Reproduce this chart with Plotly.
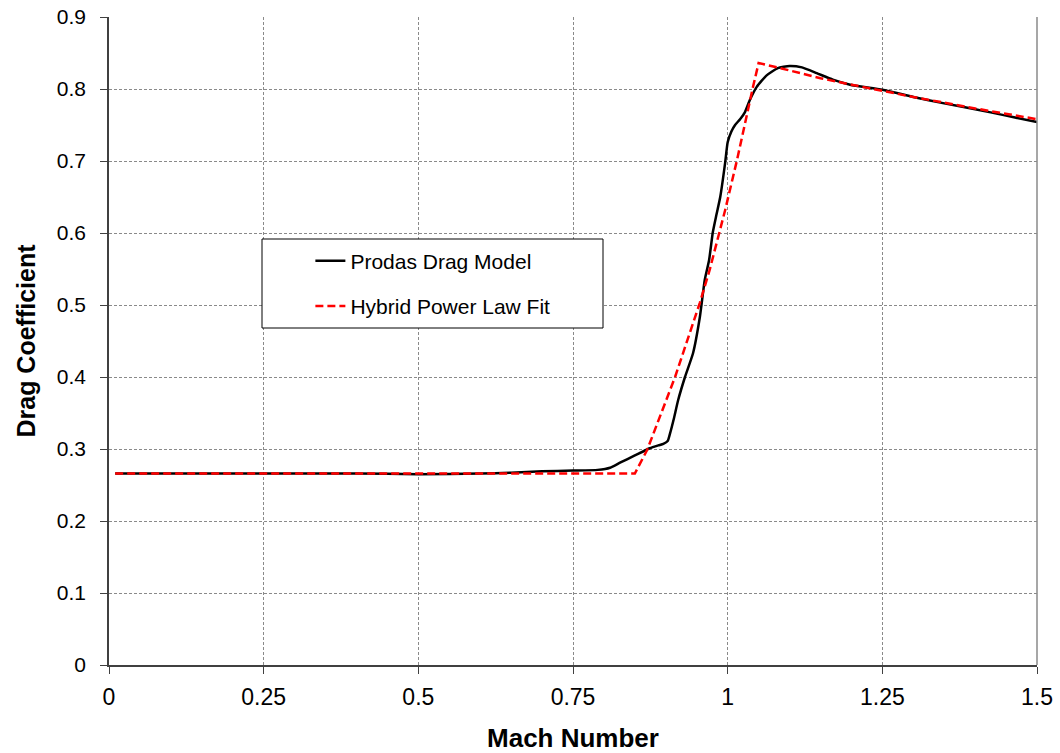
import plotly.graph_objects as go

# Prodas Drag Model (black solid)
prodas_mach = [0.01, 0.1, 0.2, 0.3, 0.4, 0.5, 0.6, 0.65, 0.7, 0.75, 0.79, 0.81, 0.826, 0.85,
               0.874, 0.888, 0.896, 0.903, 0.907, 0.913, 0.920, 0.931, 0.944, 0.955, 0.963,
               0.970, 0.976, 0.982, 0.988, 0.996, 1.000, 1.006, 1.012, 1.020, 1.028, 1.036,
               1.047, 1.063, 1.081, 1.10, 1.12, 1.144, 1.17, 1.198, 1.25, 1.3, 1.35, 1.4,
               1.45, 1.5]
prodas_cd = [0.266, 0.266, 0.266, 0.266, 0.266, 0.265, 0.266, 0.267, 0.269, 0.270, 0.271,
             0.274, 0.281, 0.291, 0.301, 0.305, 0.307, 0.311, 0.322, 0.342, 0.368, 0.400,
             0.433, 0.483, 0.535, 0.5625, 0.601, 0.626, 0.650, 0.698, 0.726, 0.741, 0.750,
             0.758, 0.768, 0.785, 0.803, 0.819, 0.829, 0.832, 0.830, 0.822, 0.813, 0.806,
             0.799, 0.789, 0.780, 0.772, 0.763, 0.754]

# Hybrid Power Law Fit (red dashed)
fit_mach = [0.01, 0.85, 0.870, 0.915, 0.955, 0.971, 0.996, 1.015, 1.041, 1.05, 1.085,
            1.15, 1.2, 1.25, 1.3, 1.4, 1.5]
fit_cd = [0.266, 0.266, 0.299, 0.400, 0.503, 0.549, 0.632, 0.701, 0.803, 0.836, 0.829,
          0.815, 0.806, 0.797, 0.789, 0.773, 0.758]

x_ticks = [0, 0.25, 0.5, 0.75, 1, 1.25, 1.5]
x_tick_text = ["0", "0.25", "0.5", "0.75", "1", "1.25", "1.5"]
y_ticks = [0, 0.1, 0.2, 0.3, 0.4, 0.5, 0.6, 0.7, 0.8, 0.9]
y_tick_text = ["0", "0.1", "0.2", "0.3", "0.4", "0.5", "0.6", "0.7", "0.8", "0.9"]

FONT = "Liberation Sans, Arial, sans-serif"

fig = go.Figure()
fig.add_trace(go.Scatter(x=prodas_mach, y=prodas_cd, mode="lines", name="Prodas Drag Model",
                         line=dict(color="black", width=2.5, shape="spline", smoothing=0.5),
                         legendgroup="a"))
fig.add_trace(go.Scatter(x=fit_mach, y=fit_cd, mode="lines", name="Hybrid Power Law Fit",
                         line=dict(color="#ff0000", width=2.5, dash="8px,4px"),
                         legendgroup="b"))

grid = dict(showgrid=True, gridcolor="#8a8a8a", gridwidth=1, griddash="3px,2px")

fig.update_layout(
    width=1060, height=753,
    margin=dict(l=109, r=23, t=17, b=88, autoexpand=False),
    paper_bgcolor="white", plot_bgcolor="white",
    font=dict(family=FONT, color="black"),
    showlegend=True,
    legend=dict(x=0.217, y=0.655, xanchor="left", yanchor="top",
                bgcolor="rgba(0,0,0,0)", borderwidth=0,
                font=dict(size=21, family=FONT), traceorder="grouped",
                tracegroupgap=15),
    xaxis=dict(range=[0, 1.5], tickvals=x_ticks, ticktext=x_tick_text,
               ticks="outside", ticklen=7, tickcolor="#404040", automargin=False,
               showline=True, linecolor="#404040", linewidth=1.5, zeroline=False,
               tickfont=dict(size=23, family=FONT), ticklabelstandoff=4,
               title=dict(text="<b>Mach Number</b>", font=dict(size=26, family=FONT), standoff=20),
               **grid),
    yaxis=dict(range=[0, 0.9], tickvals=y_ticks, ticktext=y_tick_text,
               ticks="outside", ticklen=7, tickcolor="#404040", automargin=False,
               showline=True, linecolor="#404040", linewidth=1.5, zeroline=False,
               tickfont=dict(size=21, family=FONT), ticklabelstandoff=10,
               title=dict(text="<b>Drag Coefficient</b>", font=dict(size=25, family=FONT), standoff=14),
               **grid),
    shapes=[
        dict(type="line", xref="paper", yref="paper", x0=1, x1=1, y0=0, y1=1,
             line=dict(color="#8a8a8a", width=1.5)),
        dict(type="rect", xref="paper", yref="paper",
             x0=(262 - 109) / 928, x1=(603 - 109) / 928,
             y0=(665 - 328) / 648, y1=(665 - 239) / 648,
             line=dict(color="black", width=1), fillcolor="white", layer="above"),
    ],
)

fig.write_html("out.html", config={"displayModeBar": False},
               post_script="document.body.style.margin='0';")
